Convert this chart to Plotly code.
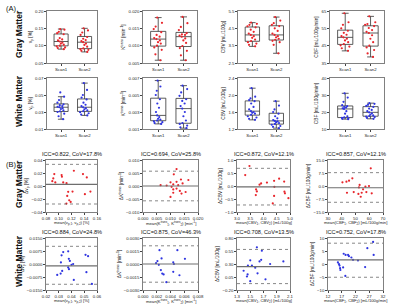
import plotly.graph_objects as go

W, H = 400, 308
FONT = "Arial, Liberation Sans, sans-serif"
RED = "#e8262c"
BLUE = "#2f35e0"

scans = ["Scan1", "Scan2"]

# ---------------- Panel A: box plot data ----------------
gm_vp_s1 = [0.090, 0.093, 0.095, 0.098, 0.100, 0.103, 0.106, 0.109, 0.112, 0.115, 0.118, 0.122, 0.133, 0.136, 0.140, 0.146, 0.148]
gm_vp_s2 = [0.082, 0.085, 0.088, 0.090, 0.092, 0.097, 0.102, 0.106, 0.110, 0.113, 0.116, 0.120, 0.125, 0.131, 0.138, 0.144, 0.150]
gm_kt_s1 = [0.0058, 0.0075, 0.0088, 0.0095, 0.0100, 0.0106, 0.0110, 0.0115, 0.0119, 0.0122, 0.0126, 0.0131, 0.0139, 0.0148, 0.0155, 0.0166, 0.0181]
gm_kt_s2 = [0.0058, 0.0072, 0.0085, 0.0093, 0.0099, 0.0108, 0.0115, 0.0121, 0.0126, 0.0129, 0.0131, 0.0133, 0.0136, 0.0145, 0.0154, 0.0165, 0.0183]
gm_cbv_s1 = [3.46, 3.55, 3.62, 3.70, 3.77, 3.85, 3.95, 4.05, 4.12, 4.20, 4.30, 4.42, 4.56, 4.62, 4.70, 4.76, 4.83]
gm_cbv_s2 = [3.06, 3.55, 3.70, 3.78, 3.84, 3.90, 3.98, 4.05, 4.12, 4.20, 4.35, 4.50, 4.63, 4.70, 4.80, 4.95, 5.15]
gm_cbf_s1 = [42.0, 43.5, 44.5, 45.2, 45.9, 47.0, 48.0, 49.0, 49.8, 50.5, 51.3, 52.4, 53.6, 55.0, 57.0, 58.5, 63.7]
gm_cbf_s2 = [38.5, 40.5, 42.5, 44.0, 45.0, 47.0, 49.0, 51.0, 52.3, 53.0, 54.0, 55.2, 56.3, 57.0, 57.5, 58.5, 61.9]

wm_vp_s1 = [0.0215, 0.0250, 0.0280, 0.0300, 0.0308, 0.0320, 0.0335, 0.0345, 0.0356, 0.0362, 0.0370, 0.0380, 0.0390, 0.0410, 0.0440, 0.0480, 0.0530]
wm_vp_s2 = [0.0260, 0.0270, 0.0285, 0.0298, 0.0310, 0.0320, 0.0332, 0.0345, 0.0356, 0.0368, 0.0385, 0.0410, 0.0448, 0.0470, 0.0500, 0.0560, 0.0640]
wm_kt_s1 = [0.0016, 0.0017, 0.0018, 0.0019, 0.0020, 0.0021, 0.0022, 0.0024, 0.0026, 0.0030, 0.0035, 0.0040, 0.0045, 0.0050, 0.0055, 0.0060, 0.0067]
wm_kt_s2 = [0.0011, 0.0012, 0.0014, 0.0016, 0.0017, 0.0020, 0.0025, 0.0030, 0.0034, 0.0037, 0.0040, 0.0043, 0.0045, 0.0049, 0.0053, 0.0057, 0.0061]
wm_cbv_s1 = [1.415, 1.44, 1.47, 1.50, 1.535, 1.56, 1.58, 1.60, 1.62, 1.66, 1.72, 1.80, 1.855, 1.88, 1.92, 1.96, 2.16]
wm_cbv_s2 = [1.22, 1.25, 1.27, 1.30, 1.32, 1.34, 1.36, 1.38, 1.39, 1.41, 1.45, 1.50, 1.56, 1.60, 1.66, 1.75, 1.855]
wm_cbf_s1 = [15.8, 16.0, 16.3, 16.5, 16.8, 17.5, 19.0, 20.5, 21.8, 22.2, 22.6, 23.0, 23.4, 24.0, 26.0, 28.5, 31.0]
wm_cbf_s2 = [16.0, 16.5, 17.0, 17.3, 17.6, 18.0, 18.5, 19.2, 19.8, 20.5, 21.2, 22.0, 23.0, 23.6, 24.2, 24.8, 25.2]

# ---------------- Panel B: Bland-Altman data (estimated) ----------------
ba_gm_vp_mean = [0.0914, 0.093, 0.0899, 0.0946, 0.1045, 0.105, 0.107, 0.1122, 0.1237, 0.138, 0.144, 0.1148, 0.1216, 0.1133, 0.1164, 0.112, 0.141, 0.1497, 0.1187]
ba_gm_vp_diff = [0.0117, 0.0183, 0.0075, 0.0055, 0.0168, 0.0142, 0.0055, 0.0044, 0.0235, 0.0183, 0.0132, -0.009, -0.0085, -0.0152, -0.0219, -0.027, -0.0126, -0.0085, -0.0245]
ba_gm_kt_mean = [0.0122, 0.0112, 0.0138, 0.0064, 0.0122, 0.0100, 0.0110, 0.0128, 0.0144, 0.0165, 0.0104, 0.0122, 0.0134, 0.0155, 0.0110, 0.0100, 0.0140, 0.0110, 0.0086]
ba_gm_kt_diff = [0.0065, 0.0045, 0.0025, 0.0003, 0.0016, 0.0014, 0.0006, 0.0003, 0.0010, 0.0023, -0.0003, -0.0010, -0.0019, -0.0023, -0.0026, -0.0042, -0.0029, -0.0013, 0.0002]
ba_gm_cbv_mean = [3.47, 3.31, 3.85, 3.91, 4.13, 4.40, 4.59, 4.78, 3.75, 3.71, 4.35, 4.40, 4.79, 4.81, 4.94, 3.72, 4.41]
ba_gm_cbv_diff = [0.77, 0.42, 0.05, 0.10, 0.13, 0.20, 0.28, 0.17, -0.21, -0.35, -0.67, -0.38, -0.22, -0.28, -0.47, -0.13, -0.03]
ba_gm_cbf_mean = [61.1, 47.7, 43.4, 45.3, 40.5, 53.0, 57.2, 59.8, 48.7, 52.1, 54.5, 53.8, 57.9, 61.8, 55.5, 52.5, 43.8]
ba_gm_cbf_diff = [10.2, 4.4, 2.5, 3.1, 2.1, 0.6, -0.4, 0.0, -3.5, -4.6, -3.9, -6.2, -3.5, -4.2, -1.9, -0.8, -3.9]

ba_wm_vp_mean = [0.0335, 0.0374, 0.0322, 0.0379, 0.0387, 0.0317, 0.0400, 0.0413, 0.0510, 0.0530, 0.0374, 0.0327, 0.0315, 0.0288, 0.0380, 0.0517, 0.0418, 0.0560]
ba_wm_vp_diff = [0.0069, 0.0073, 0.0050, 0.0030, 0.0018, 0.0009, -0.0005, 0.0000, 0.0053, 0.0045, -0.0020, -0.0040, -0.0055, -0.0063, -0.0030, -0.0047, -0.0092, -0.0115]
ba_wm_kt_mean = [0.0024, 0.0027, 0.0021, 0.0019, 0.0044, 0.0045, 0.0050, 0.0061, 0.0026, 0.0028, 0.0030, 0.0044, 0.0053, 0.0034, 0.0023]
ba_wm_kt_diff = [0.0016, 0.00064, 0.00034, 0.00009, 0.0002, 0.0000, 0.0016, 0.0006, -0.0007, -0.0011, -0.0012, -0.0009, -0.0013, -0.0021, -0.0001]
ba_wm_cbv_mean = [1.60, 1.675, 1.665, 1.64, 1.50, 1.465, 1.525, 1.80, 2.00, 1.575, 1.40, 1.46, 1.45, 1.50, 1.73, 1.61]
ba_wm_cbv_diff = [0.62, 0.555, 0.38, 0.35, 0.37, 0.27, 0.27, 0.30, 0.35, 0.23, 0.17, 0.10, 0.06, -0.03, 0.006, 0.12]
ba_wm_cbf_mean = [17.7, 18.4, 19.3, 19.6, 20.5, 21.1, 22.9, 26.3, 28.4, 28.6, 15.6, 16.0, 16.2, 16.4, 16.5, 17.5, 18.3, 25.5]
ba_wm_cbf_diff = [3.94, 3.5, 3.5, 3.0, 2.5, 1.6, 1.35, 6.1, 8.5, 3.5, 0.6, -0.06, -0.6, -1.6, -2.3, -1.3, -4.6, -1.2]

# bias and limits of agreement
ba_bias = [0.0025, 0.0000, -0.03, -1.0, -0.0011, 0.0000, 0.25, 1.6]
ba_upper = [0.0333, 0.0057, 0.68, 7.7, 0.0102, 0.0021, 0.58, 8.0]
ba_lower = [-0.0277, -0.0057, -0.73, -9.4, -0.0117, -0.0021, -0.077, -5.1]

ba_titles = ["ICC=0.822, CoV=17.8%", "ICC=0.694, CoV=25.8%", "ICC=0.872, CoV=12.1%", "ICC=0.857, CoV=12.1%",
             "ICC=0.884, CoV=24.8%", "ICC=0.875, CoV=46.3%", "ICC=0.708, CoV=13.5%", "ICC=0.752, CoV=17.8%"]

# ---------------- layout geometry ----------------
colsA = [(47, 97), (143, 197), (238, 289), (330, 384)]
colsB = [(46, 97), (143, 198), (237, 290), (328, 383)]
rowsA = [(11, 63), (78, 129)]
rowsB = [(160, 212), (238, 290)]
xtitle_y = [223, 301]


def dx(a, b):
    return [a / W, b / W]


def dy(t, b):
    return [1 - b / H, 1 - t / H]


tickfont = dict(size=4.3, family=FONT, color="#222")
titlefont = dict(size=4.8, family=FONT, color="#222")
base_ax = dict(showline=True, mirror=True, linecolor="#808080", linewidth=0.9,
               ticks="outside", ticklen=1.8, tickwidth=0.6, tickcolor="#444",
               showgrid=False, zeroline=False, tickfont=tickfont, automargin=False)

fig = go.Figure()
layout = {}
annotations = []
shapes = []

# Panel A
box_sets = [
    (gm_vp_s1, gm_vp_s2, RED, "v<sub>p</sub> [%]", [0.05, 0.20], [0.05, 0.10, 0.15, 0.20], ".2f"),
    (gm_kt_s1, gm_kt_s2, RED, "K<sup>trans</sup> [min<sup>-1</sup>]", [0.005, 0.020], [0.005, 0.010, 0.015, 0.020], ".3f"),
    (gm_cbv_s1, gm_cbv_s2, RED, "CBV [mL/100g]", [2.5, 5.5], [2.5, 3.5, 4.5, 5.5], ".1f"),
    (gm_cbf_s1, gm_cbf_s2, RED, "CBF [mL/100g/min]", [35, 65], [35, 45, 55, 65], "d"),
    (wm_vp_s1, wm_vp_s2, BLUE, "v<sub>p</sub> [%]", [0.01, 0.07], [0.01, 0.03, 0.05, 0.07], ".2f"),
    (wm_kt_s1, wm_kt_s2, BLUE, "K<sup>trans</sup> [min<sup>-1</sup>]", [0.001, 0.007], [0.001, 0.003, 0.005, 0.007], ".3f"),
    (wm_cbv_s1, wm_cbv_s2, BLUE, "CBV [mL/100g]", [1.2, 2.4], [1.2, 1.6, 2.0, 2.4], ".1f"),
    (wm_cbf_s1, wm_cbf_s2, BLUE, "CBF [mL/100g/min]", [10, 40], [10, 20, 30, 40], "d"),
]

k = 0
for i, (s1, s2, col, ytitle, yr, yt, fmt) in enumerate(box_sets):
    k += 1
    r, c = divmod(i, 4)
    xn = "x" if k == 1 else f"x{k}"
    yn = "y" if k == 1 else f"y{k}"
    for scan, vals in zip(scans, [s1, s2]):
        fig.add_trace(go.Box(
            x=[scan] * len(vals), y=vals, xaxis=xn, yaxis=yn,
            boxpoints="all", jitter=0.75, pointpos=0, width=0.6, whiskerwidth=0.45,
            fillcolor="rgba(255,255,255,0)", line=dict(color="#333333", width=0.8),
            marker=dict(color=col, size=2.2), showlegend=False, hoverinfo="skip"))
    layout["xaxis" if k == 1 else f"xaxis{k}"] = dict(
        base_ax, domain=dx(*colsA[c]), anchor=yn, type="category",
        categoryorder="array", categoryarray=scans, range=[-0.6, 1.53])
    layout["yaxis" if k == 1 else f"yaxis{k}"] = dict(
        base_ax, domain=dy(*rowsA[r]), anchor=xn, range=yr, tickvals=yt,
        tickformat=fmt, title=dict(text=ytitle, font=titlefont, standoff=2))

# Panel B
ba_sets = [
    (ba_gm_vp_mean, ba_gm_vp_diff, RED, "Δv<sub>p</sub> [%]", "mean(v<sub>p,1</sub>, v<sub>p,2</sub>) [%]",
     [0.08, 0.16], [0.08, 0.10, 0.12, 0.14, 0.16], ".2f", [-0.04, 0.04], [-0.04, -0.02, 0, 0.02, 0.04], ".2f"),
    (ba_gm_kt_mean, ba_gm_kt_diff, RED, "ΔK<sup>trans</sup> [min<sup>-1</sup>]",
     "mean(K<sup>trans</sup><sub>1</sub>, K<sup>trans</sup><sub>2</sub>) [min<sup>-1</sup>]",
     [0.0, 0.020], [0, 0.005, 0.010, 0.015, 0.020], ".3f", [-0.010, 0.010], [-0.010, -0.005, 0, 0.005, 0.010], ".3f"),
    (ba_gm_cbv_mean, ba_gm_cbv_diff, RED, "ΔCBV [mL/100g]", "mean(CBV<sub>1</sub>, CBV<sub>2</sub>) [mL/100g]",
     [3.0, 5.0], [3.0, 3.5, 4.0, 4.5, 5.0], ".1f", [-1.0, 1.0], [-1.0, -0.5, 0, 0.5, 1.0], ".1f"),
    (ba_gm_cbf_mean, ba_gm_cbf_diff, RED, "ΔCBF [mL/100g/min]", "mean(CBF<sub>1</sub>, CBF<sub>2</sub>) [mL/100g/min]",
     [30, 70], [30, 40, 50, 60, 70], "d", [-15, 15], [-15, -7.5, 0, 7.5, 15], ".1f"),
    (ba_wm_vp_mean, ba_wm_vp_diff, BLUE, "Δv<sub>p</sub> [%]", "mean(v<sub>p,1</sub>, v<sub>p,2</sub>) [%]",
     [0.02, 0.06], [0.02, 0.03, 0.04, 0.05, 0.06], ".2f", [-0.015, 0.015], [-0.015, -0.0075, 0, 0.0075, 0.015], ".4f"),
    (ba_wm_kt_mean, ba_wm_kt_diff, BLUE, "ΔK<sup>trans</sup> [min<sup>-1</sup>]",
     "mean(K<sup>trans</sup><sub>1</sub>, K<sup>trans</sup><sub>2</sub>) [min<sup>-1</sup>]",
     [0.0, 0.008], [0, 0.002, 0.004, 0.006, 0.008], ".3f", [-0.003, 0.003], [-0.003, -0.0015, 0, 0.0015, 0.003], ".4f"),
    (ba_wm_cbv_mean, ba_wm_cbv_diff, BLUE, "ΔCBV [mL/100g]", "mean(CBV<sub>1</sub>, CBV<sub>2</sub>) [mL/100g]",
     [1.3, 2.1], [1.3, 1.5, 1.7, 1.9, 2.1], ".1f", [-0.2, 0.8], [-0.2, 0.05, 0.3, 0.55, 0.8], ".2f"),
    (ba_wm_cbf_mean, ba_wm_cbf_diff, BLUE, "ΔCBF [mL/100g/min]", "mean(CBF<sub>1</sub>, CBF<sub>2</sub>) [mL/100g/min]",
     [12, 32], [12, 17, 22, 27, 32], "d", [-10, 10], [-10, -5, 0, 5, 10], "d"),
]

for i, (mx, dd, col, ytitle, xtitle, xr, xt, xf, yr, yt, yf) in enumerate(ba_sets):
    k += 1
    r, c = divmod(i, 4)
    xn, yn = f"x{k}", f"y{k}"
    fig.add_trace(go.Scatter(x=mx, y=dd, xaxis=xn, yaxis=yn, mode="markers",
                             marker=dict(color=col, size=2.2), showlegend=False, hoverinfo="skip"))
    layout[f"xaxis{k}"] = dict(base_ax, domain=dx(*colsB[c]), anchor=yn, range=xr, tickvals=xt,
                               tickformat=xf)
    layout[f"yaxis{k}"] = dict(base_ax, domain=dy(*rowsB[r]), anchor=xn, range=yr, tickvals=yt,
                               tickformat=yf, title=dict(text=ytitle, font=titlefont, standoff=2))
    shapes.append(dict(type="line", xref=f"{xn} domain", yref=yn, x0=0, x1=1,
                       y0=ba_bias[i], y1=ba_bias[i], line=dict(color="#6e6e6e", width=1.2)))
    for v in (ba_upper[i], ba_lower[i]):
        shapes.append(dict(type="line", xref=f"{xn} domain", yref=yn, x0=0, x1=1,
                           y0=v, y1=v, line=dict(color="#555555", width=0.7, dash="dot")))
    annotations.append(dict(text=ba_titles[i], xref=f"{xn} domain", yref=f"{yn} domain",
                            x=0.5, y=1.0, yshift=1, xanchor="center", yanchor="bottom",
                            showarrow=False, font=dict(size=5.6, family=FONT, color="#111")))
    xa, xb = colsB[c]
    annotations.append(dict(text=xtitle, xref="paper", yref="paper",
                            x=(xa + xb) / 2 / W, y=1 - xtitle_y[r] / H,
                            xanchor="center", yanchor="middle", showarrow=False,
                            font=dict(size=4.2, family=FONT, color="#222")))

# panel labels and row labels
annotations.append(dict(text="(A)", xref="paper", yref="paper", x=4 / W, y=1 - 8 / H,
                        xanchor="left", yanchor="middle", showarrow=False,
                        font=dict(size=7.5, family=FONT, color="#111")))
annotations.append(dict(text="(B)", xref="paper", yref="paper", x=4 / W, y=1 - 164 / H,
                        xanchor="left", yanchor="middle", showarrow=False,
                        font=dict(size=7.5, family=FONT, color="#111")))
for label, yc in [("Gray Matter", 34), ("White Matter", 101), ("Gray Matter", 184), ("White Matter", 261)]:
    annotations.append(dict(text="<b>" + label + "</b>", xref="paper", yref="paper",
                            x=19 / W, y=1 - yc / H, textangle=-90, xanchor="center", yanchor="middle",
                            showarrow=False, font=dict(size=8.5, family=FONT, color="#111")))

fig.update_layout(**layout)
fig.update_layout(width=W, height=H, margin=dict(l=0, r=0, t=0, b=0, autoexpand=False),
                  paper_bgcolor="white", plot_bgcolor="white", boxmode="overlay",
                  annotations=annotations, shapes=shapes, font=dict(family=FONT))

# remove the default page margin so the 400x308 figure sits at the window origin
fig.write_html("out.html", config={"displayModeBar": False},
               post_script="document.body.style.margin='0';document.body.style.overflow='hidden';")
